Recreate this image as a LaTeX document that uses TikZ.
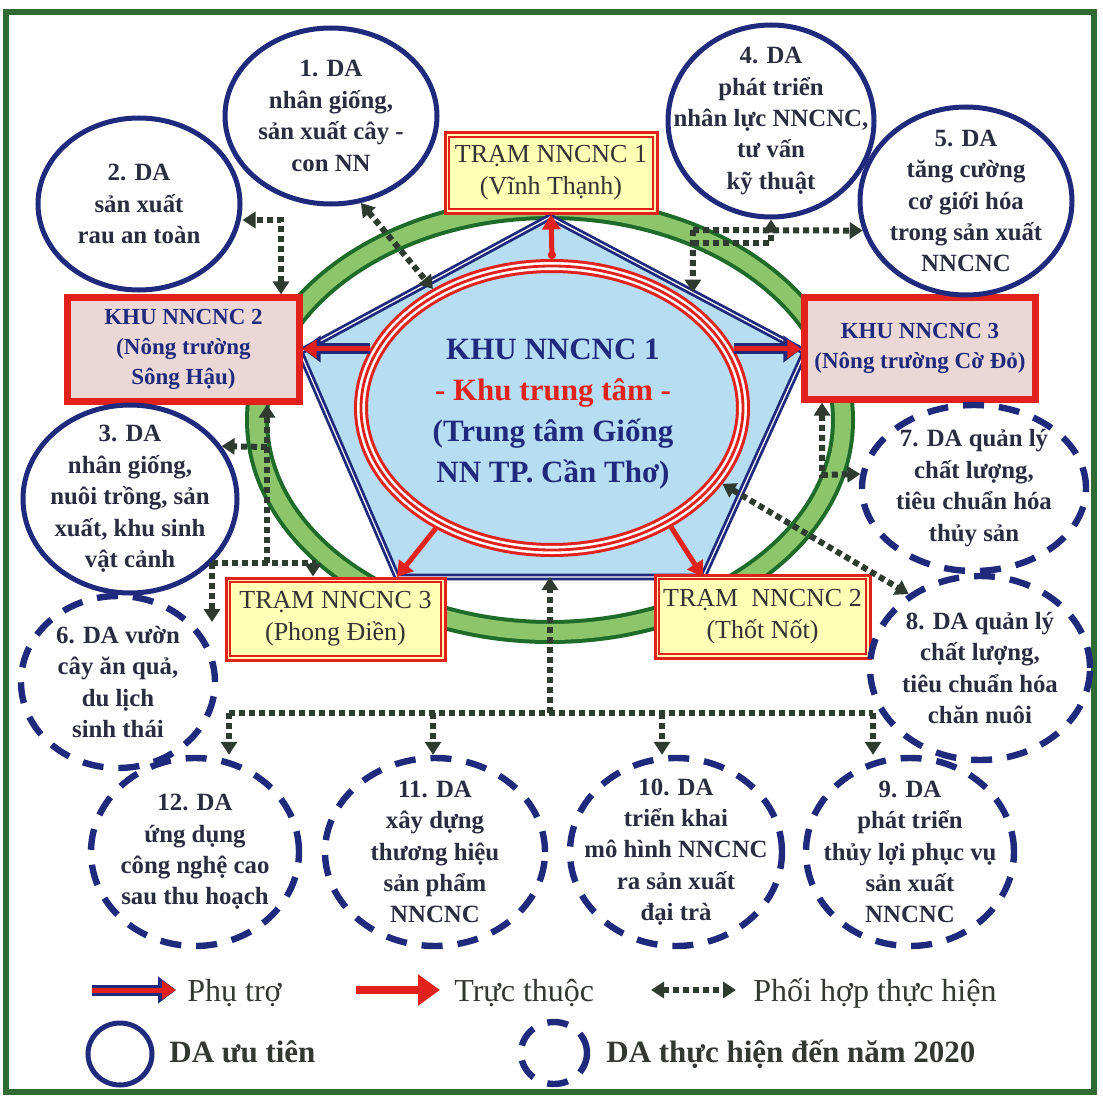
\documentclass[tikz,border=0pt]{standalone}
\usepackage{fontspec}
\setmainfont{Liberation Serif}
\usetikzlibrary{shapes.geometric,arrows.meta,calc}

\definecolor{navy}{HTML}{1F2A7C}
\definecolor{ringdark}{HTML}{1E6B2A}
\definecolor{ringlight}{HTML}{8CC56A}
\definecolor{framegreen}{HTML}{2F6B32}
\definecolor{redline}{HTML}{E3211C}
\definecolor{paleyellow}{HTML}{FFFFB5}
\definecolor{palepink}{HTML}{EBD8D6}
\definecolor{skyfill}{HTML}{B7DDF2}
\definecolor{dotgrey}{HTML}{2F3B31}
\definecolor{inktext}{HTML}{2A2C40}
\definecolor{legink}{HTML}{333833}

\begin{document}
\begin{tikzpicture}[x=0.5pt,y=0.5pt,yscale=-1,
  bubble/.style={ellipse, draw=navy, line width=2.5pt, inner sep=0pt},
  plan/.style={bubble, line width=3.2pt, dash pattern=on 10.5pt off 7.5pt},
  bubtext/.style={font=\bfseries\fontsize{12.4}{15.7}\selectfont, text=inktext, align=center, inner sep=0pt},
  tram/.style={rectangle, draw=redline, line width=1.5pt, fill=paleyellow, align=center, text=black!80, font=\fontsize{13}{16}\selectfont, inner sep=0pt},
  khu/.style={rectangle, draw=redline, line width=2.6pt, fill=palepink, align=center, text=navy, font=\bfseries\fontsize{11.5}{15}\selectfont, inner sep=0pt},
  dotline/.style={draw=dotgrey, line width=3pt, dash pattern=on 3pt off 2pt},
  coop/.style={dotline, {Triangle[length=6.5pt,width=8pt]}-{Triangle[length=6.5pt,width=8pt]}},
  coopto/.style={dotline, -{Triangle[length=6.5pt,width=8pt]}},
  trc/.style={draw=redline, line width=2.5pt, -{Triangle[length=7.5pt,width=9pt]}},
  phu/.style={draw=redline, line width=2.5pt, -{Triangle[length=7pt,width=9pt]}, preaction={draw=navy, line width=5.5pt, -{Triangle[length=9pt,width=13pt]}}},
  legtext/.style={anchor=base west, inner sep=0pt, text=legink, font=\fontsize{16}{18}\selectfont},
  legbold/.style={legtext, font=\bfseries\fontsize{15.5}{18}\selectfont}
]
% background and frame
\fill[white] (0,0) rectangle (1103,1097);
\draw[framegreen, line width=2.6pt] (6,12) rectangle (1094,1092);

% green ring
\draw[ringdark, line width=12pt] (550,420) ellipse [x radius=293, y radius=212];
\draw[ringlight, line width=8pt] (550,420) ellipse [x radius=293, y radius=212];

% pentagon
\coordinate (ptop) at (550,217);
\coordinate (pleft) at (300,352);
\coordinate (pright) at (805,352);
\coordinate (pbl) at (397,577);
\coordinate (pbr) at (703,577);
\draw[navy, line width=1.4pt, double=white, double distance=0.6pt, fill=skyfill] (ptop) -- (pright) -- (pbr) -- (pbl) -- (pleft) -- cycle;

% centre
\node[ellipse, draw=redline, line width=7pt, fill=skyfill, minimum width=191pt, minimum height=142pt, inner sep=0pt,
  postaction={draw=white, line width=4pt}, postaction={draw=redline, line width=1.4pt}] (k1) at (552,408) {};
\node[align=center, text=navy, font=\bfseries\fontsize{15.5}{20.5}\selectfont, inner sep=0pt] (k1t) at (553,414)
  {KHU NNCNC 1\\\textcolor{redline}{- Khu trung tâm -}\\(Trung tâm Giống\\NN TP. Cần Thơ)};

% boxes
\node[tram, minimum width=106pt, minimum height=40pt] (t1) at (551,173) {TRẠM NNCNC 1\\(Vĩnh Thạnh)};
\node[tram, minimum width=107.5pt, minimum height=41.5pt] (t2) at (762.5,616.5) {TRẠM~~NNCNC 2\\(Thốt Nốt)};
\node[tram, minimum width=109.5pt, minimum height=41pt] (t3) at (335.5,619) {TRẠM NNCNC 3\\(Phong Điền)};
\node[khu, minimum width=116.5pt, minimum height=52.5pt] (k2) at (183.5,349.5) {KHU NNCNC 2\\(Nông trường\\Sông Hậu)};
\node[khu, minimum width=116pt, minimum height=51.5pt] (k3) at (920,348.5) {KHU NNCNC 3\\(Nông trường Cờ Đỏ)};
\foreach \b in {t1,t2,t3}
  \draw[redline, line width=1pt] ($(\b.north west)+(5.5,5.5)$) rectangle ($(\b.south east)-(5.5,5.5)$);
\foreach \b in {k2,k3}
  \draw[redline, line width=0.8pt] ($(\b.north west)+(6,6)$) rectangle ($(\b.south east)-(6,6)$);

% priority projects
\node[bubble, minimum width=106pt, minimum height=88pt, label={[bubtext]center:{1. DA\\nhân giống,\\sản xuất cây -\\con NN}}] (d1) at (331,116) {};
\node[bubble, minimum width=101pt, minimum height=86pt, label={[bubtext]center:{2. DA\\sản xuất\\rau an toàn}}] (d2) at (139,204) {};
\node[bubble, minimum width=107pt, minimum height=94pt, label={[bubtext]center:{3. DA\\nhân giống,\\nuôi trồng, sản\\xuất, khu sinh\\vật cảnh}}] (d3) at (130,499) {};
\node[bubble, minimum width=103pt, minimum height=96pt, label={[bubtext]center:{4. DA\\phát triển\\nhân lực NNCNC,\\tư vấn\\kỹ thuật}}] (d4) at (771,121) {};
\node[bubble, minimum width=106pt, minimum height=94pt, label={[bubtext]center:{5. DA\\tăng cường\\cơ giới hóa\\trong sản xuất\\NNCNC}}] (d5) at (966,201) {};

% projects until 2020
\node[plan, minimum width=97pt, minimum height=86pt, label={[bubtext]center:{6. DA vườn\\cây ăn quả,\\du lịch\\sinh thái}}] (d6) at (118,682) {};
\node[plan, minimum width=112pt, minimum height=83pt, label={[bubtext]center:{7. DA quản lý\\chất lượng,\\tiêu chuẩn hóa\\thủy sản}}] (d7) at (974,488) {};
\node[plan, minimum width=110pt, minimum height=92pt, label={[bubtext]center:{8. DA quản lý\\chất lượng,\\tiêu chuẩn hóa\\chăn nuôi}}] (d8) at (980,668) {};
\node[plan, minimum width=104pt, minimum height=94pt, label={[bubtext]center:{9. DA\\phát triển\\thủy lợi phục vụ\\sản xuất\\NNCNC}}] (d9) at (910,852) {};
\node[plan, minimum width=106pt, minimum height=94pt, label={[bubtext]center:{10. DA\\triển khai\\mô hình NNCNC\\ra sản xuất\\đại trà}}] (d10) at (676,852) {};
\node[plan, minimum width=110pt, minimum height=94pt, label={[bubtext]center:{11. DA\\xây dựng\\thương hiệu\\sản phẩm\\NNCNC}}] (d11) at (435,852) {};
\node[plan, minimum width=104pt, minimum height=94pt, label={[bubtext]center:{12. DA\\ứng dụng\\công nghệ cao\\sau thu hoạch}}] (d12) at (195,852) {};

% direct subordination
\draw[trc, {Circle[open,length=4pt,width=4pt]}-{Triangle[length=7.5pt,width=9pt]}] (k1.north) -- (t1.south);
\draw[trc] (k1.-134) -- (pbl);
\draw[trc] (k1.-45) -- (pbr);

% support
\draw[phu] (k1.162) -- (k1.162 -| k2.east);
\draw[phu] (k1.18) -- (k1.18 -| k3.west);

% cooperation
\draw[coop] (d1.-71) -- (k1.135);
\coordinate (c2) at (281,220);
\draw[coop] (k2.north -| c2) -- (c2) -- (d2.east |- c2);
\coordinate (c3) at (267,447);
\coordinate (c3b) at (267,563);
\coordinate (c3l) at (212,563);
\coordinate (c3r) at (313,563);
\coordinate (c6) at (212,622);
\draw[coopto] (c3b) -- (k2.south -| c3b);
\draw[coopto] (c3) -- (d3.30);
\draw[coopto] (c3l) -- (c3r) -- (t3.north -| c3r);
\draw[coopto] (c3l) -- (c6);
\coordinate (e4) at ($(ptop)!0.56!(pright)$);
\coordinate (c4) at (693,230);
\coordinate (c4b) at (693,243);
\draw[coopto] (c4) -- (d5.196);
\draw[coopto] (c4) -- (e4);
\draw[coopto] (c4b) -- (c4b -| d4.south) -- (d4.south);
\coordinate (c7) at (822,475);
\draw[coop] (k3.south -| c7) -- (c7) -- (d7.173);
\draw[coop] (k1.-24) -- (d8.134);
\coordinate (pbot) at ($(pbl)!0.5!(pbr)$);
\coordinate (c0) at (550,713);
\coordinate (b12) at (229,713);
\coordinate (b11) at (433,713);
\coordinate (b10) at (662,713);
\coordinate (b9) at (873,713);
\draw[coopto] (c0) -- (pbot);
\draw[dotline] (b12) -- (b9);
\foreach \n in {12,11,10,9}
  \draw[coopto] (b\n) -- (b\n |- d\n.north);

% legend
\coordinate (lg1a) at (92,990);
\coordinate (lg1b) at (176,990);
\draw[phu] (lg1a) -- (lg1b);
\node[legtext] (lgphu) at (187,1001) {Phụ trợ};
\coordinate (lg2a) at (356,990);
\coordinate (lg2b) at (440,990);
\draw[trc, line width=4pt, -{Triangle[length=11pt,width=15pt]}] (lg2a) -- (lg2b);
\node[legtext] (lgtruc) at (454,1001) {Trực thuộc};
\coordinate (lg3a) at (651,990);
\coordinate (lg3b) at (736,990);
\draw[coop] (lg3a) -- (lg3b);
\node[legtext] (lgphoi) at (753,1001) {Phối hợp thực hiện};
\node[bubble, minimum width=32pt, minimum height=31pt] (lgda) at (120,1054) {};
\node[legbold] (lgdat) at (169,1062) {DA ưu tiên};
\node[plan, minimum width=33pt, minimum height=31pt] (lgplan) at (554,1053) {};
\node[legbold] (lgplant) at (606,1062) {DA thực hiện đến năm 2020};
\end{tikzpicture}
\end{document}
